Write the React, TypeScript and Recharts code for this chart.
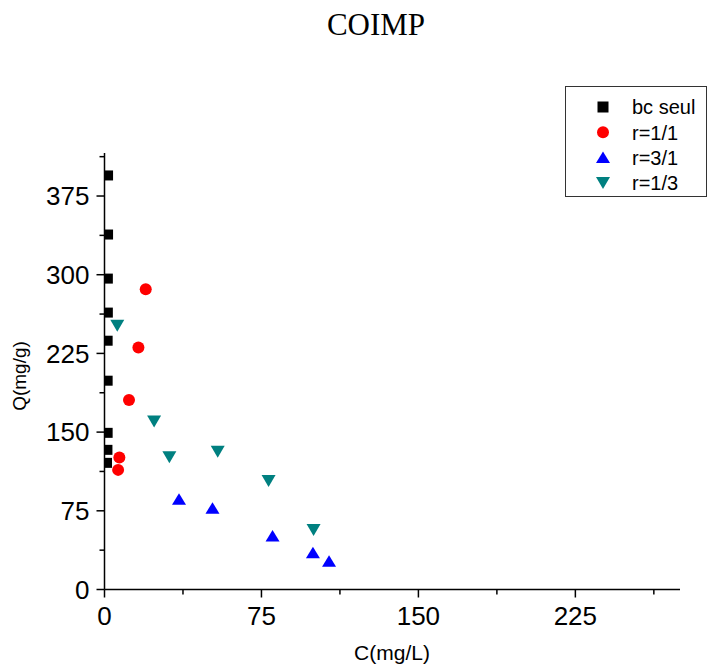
import React from 'react';
import { ScatterChart, Scatter, XAxis, YAxis } from 'recharts';

const bcSeul = [
  { x: 1.7, y: 394.6 },
  { x: 1.7, y: 338.3 },
  { x: 1.6, y: 296.3 },
  { x: 1.6, y: 263.9 },
  { x: 1.5, y: 237.1 },
  { x: 1.5, y: 199.0 },
  { x: 1.5, y: 149.3 },
  { x: 1.4, y: 133.1 },
  { x: 1.2, y: 120.7 },
];
const r11 = [
  { x: 19.7, y: 286.1 },
  { x: 16.2, y: 230.7 },
  { x: 11.7, y: 180.5 },
  { x: 7.1, y: 125.8 },
  { x: 6.5, y: 114.0 },
];
const r31 = [
  { x: 35.6, y: 86.1 },
  { x: 51.6, y: 77.5 },
  { x: 80.3, y: 51.0 },
  { x: 99.6, y: 35.1 },
  { x: 107.3, y: 26.9 },
];
const r13 = [
  { x: 6.1, y: 251.4 },
  { x: 23.7, y: 160.1 },
  { x: 31.0, y: 126.1 },
  { x: 54.1, y: 131.2 },
  { x: 78.4, y: 103.5 },
  { x: 99.9, y: 56.8 },
];

const xTicks = [0, 37.5, 75, 112.5, 150, 187.5, 225, 262.5];
const yTicks = [0, 37.5, 75, 112.5, 150, 187.5, 225, 262.5, 300, 337.5, 375, 412.5];
const seriesNames = ['bc seul', 'r=1/1', 'r=3/1', 'r=1/3'];
const seriesColors = ['#000000', '#ff0000', '#0000ff', '#008080'];

const SANS = '"Liberation Sans", Arial, sans-serif';
const SERIF = '"Liberation Serif", "Times New Roman", serif';

const SquareShape = (p: any) => <rect x={p.cx - 5} y={p.cy - 5} width={10} height={10} fill={seriesColors[0]} />;
const CircleShape = (p: any) => <circle cx={p.cx} cy={p.cy} r={6} fill={seriesColors[1]} />;
const UpShape = (p: any) => (
  <polygon points={`${p.cx},${p.cy - 6} ${p.cx - 7},${p.cy + 5.5} ${p.cx + 7},${p.cy + 5.5}`} fill={seriesColors[2]} />
);
const DownShape = (p: any) => (
  <polygon points={`${p.cx - 7},${p.cy - 6} ${p.cx + 7},${p.cy - 6} ${p.cx},${p.cy + 6}`} fill={seriesColors[3]} />
);

const XTick = (props: any) => {
  const { x, y, payload } = props;
  const major = payload.value % 75 === 0;
  return (
    <g>
      <line x1={x} x2={x} y1={y} y2={y + (major ? 8 : 5)} stroke="#000" strokeWidth={1.5} />
      {major && (
        <text x={x} y={y + 35} textAnchor="middle" fontSize={26} fontFamily={SANS} fill="#000">
          {payload.value}
        </text>
      )}
    </g>
  );
};

const YTick = (props: any) => {
  const { x, y, payload } = props;
  const major = payload.value % 75 === 0;
  return (
    <g>
      <line x1={x} x2={x - (major ? 8 : 5)} y1={y} y2={y} stroke="#000" strokeWidth={1.5} />
      {major && (
        <text x={x - 15} y={y} dy="0.36em" textAnchor="end" fontSize={26} fontFamily={SANS} fill="#000">
          {payload.value}
        </text>
      )}
    </g>
  );
};

const legendSymbol = (i: number, cx: number, cy: number) => {
  if (i === 0) return <rect x={cx - 5.5} y={cy - 5.5} width={11} height={11} fill={seriesColors[0]} />;
  if (i === 1) return <circle cx={cx} cy={cy} r={6} fill={seriesColors[1]} />;
  if (i === 2)
    return <polygon points={`${cx},${cy - 6} ${cx - 7},${cy + 5.5} ${cx + 7},${cy + 5.5}`} fill={seriesColors[2]} />;
  return <polygon points={`${cx - 7},${cy - 6} ${cx + 7},${cy - 6} ${cx},${cy + 6}`} fill={seriesColors[3]} />;
};

const LegendBox = () => (
  <svg width={143} height={112} style={{ position: 'absolute', left: 565, top: 86, display: 'block' }}>
    <rect x={0.5} y={0.5} width={141} height={110} fill="#fff" stroke="#333" strokeWidth={1} />
    {seriesNames.map((n, i) => (
      <g key={n}>
        {legendSymbol(i, 38, 21 + i * 25.3)}
        <text x={67} y={21 + i * 25.3} dy="0.36em" fontSize={20} fontFamily={SANS} fill="#000">
          {n}
        </text>
      </g>
    ))}
  </svg>
);

export default function App() {
  return (
    <div style={{ position: 'absolute', left: 0, top: 0, width: 708, height: 671, background: '#fff' }}>
      <ScatterChart width={708} height={671} margin={{ top: 153, right: 28, bottom: 11.5, left: 4.5 }}>
        <XAxis
          type="number"
          dataKey="x"
          domain={[0, 275]}
          ticks={xTicks}
          interval={0}
          tickSize={0}
          tickMargin={0}
          tick={<XTick />}
          height={70}
          allowDataOverflow
          axisLine={{ stroke: '#000', strokeWidth: 1.5 }}
        />
        <YAxis
          type="number"
          dataKey="y"
          domain={[0, 416]}
          ticks={yTicks}
          interval={0}
          tickSize={0}
          tickMargin={0}
          tick={<YTick />}
          width={100}
          allowDataOverflow
          axisLine={{ stroke: '#000', strokeWidth: 1.5 }}
        />
        <Scatter name={seriesNames[0]} data={bcSeul} shape={SquareShape} isAnimationActive={false} />
        <Scatter name={seriesNames[1]} data={r11} shape={CircleShape} isAnimationActive={false} />
        <Scatter name={seriesNames[2]} data={r31} shape={UpShape} isAnimationActive={false} />
        <Scatter name={seriesNames[3]} data={r13} shape={DownShape} isAnimationActive={false} />
      </ScatterChart>
      <LegendBox />
      <svg width={708} height={671} style={{ position: 'absolute', left: 0, top: 0, pointerEvents: 'none' }}>
        <text x={376} y={35} textAnchor="middle" fontSize={31} fontFamily={SERIF} fill="#000">
          COIMP
        </text>
        <text x={392} y={660} textAnchor="middle" fontSize={21} fontFamily={SANS} fill="#000">
          C(mg/L)
        </text>
        <text
          x={0}
          y={0}
          transform="translate(26,376) rotate(-90)"
          textAnchor="middle"
          fontSize={19}
          fontFamily={SANS}
          fill="#000"
        >
          Q(mg/g)
        </text>
      </svg>
    </div>
  );
}
